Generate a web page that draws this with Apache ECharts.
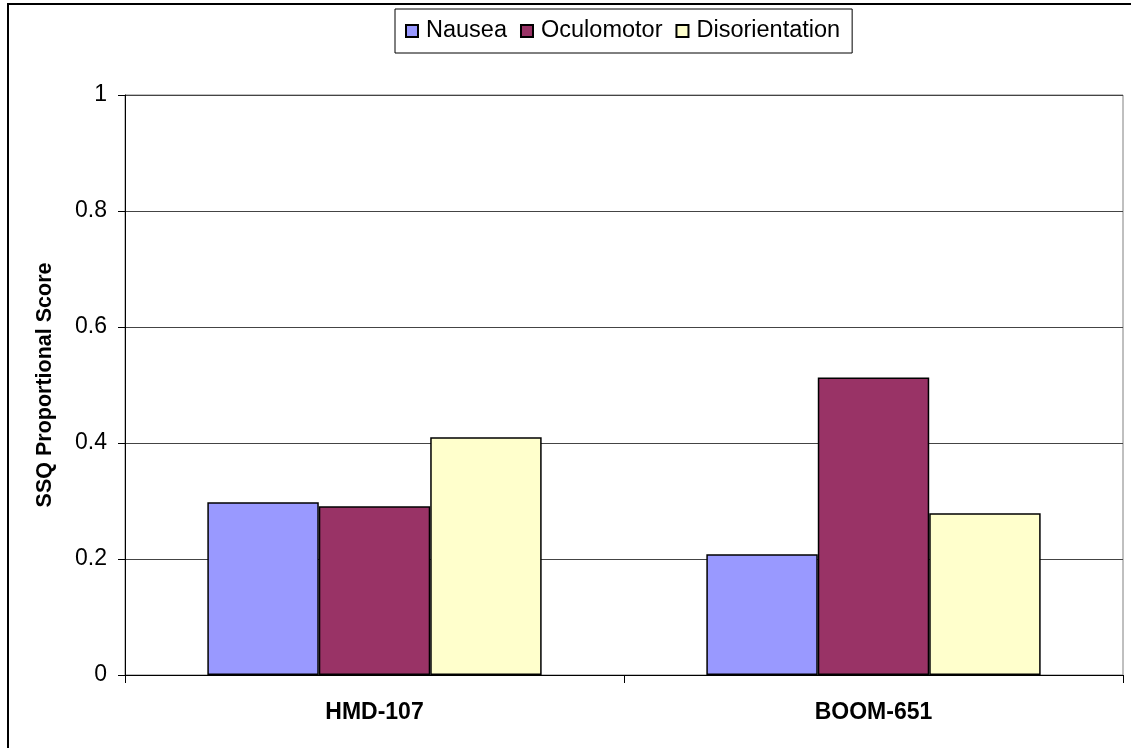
<!DOCTYPE html>
<html>
<head>
<meta charset="utf-8">
<script src="https://cdn.jsdelivr.net/npm/echarts@6/dist/echarts.min.js"></script>
<style>
  html, body { margin: 0; padding: 0; background: #fff; }
  #chart { width: 1131px; height: 748px; }
</style>
</head>
<body>
<div id="chart"></div>
<script>
// Simulator sickness questionnaire sub-scores per display type
const categories = ['HMD-107', 'BOOM-651'];
const seriesNames = ['Nausea', 'Oculomotor', 'Disorientation'];
const nausea = [0.298, 0.208];
const oculomotor = [0.291, 0.513];
const disorientation = [0.41, 0.279];
const yTickLabels = ['0', '0.2', '0.4', '0.6', '0.8', '1'];

const FONT = '"Liberation Sans", Arial, sans-serif';
const colors = ['#9999FF', '#993366', '#FFFFCC'];
const values = [nausea, oculomotor, disorientation];

const chart = echarts.init(document.getElementById('chart'), null, { renderer: 'canvas' });

chart.setOption({
  backgroundColor: '#ffffff',
  animation: false,
  textStyle: { fontFamily: FONT, color: '#000' },
  graphic: [{
    type: 'rect',
    shape: { x: 8, y: 4, width: 1300, height: 900 },
    style: { fill: 'none', stroke: '#000', lineWidth: 2 },
    silent: true,
    z: 0
  }],
  legend: {
    data: seriesNames,
    left: 395,
    top: 9,
    padding: [10, 12, 10, 10],
    itemGap: 13,
    itemWidth: 12,
    itemHeight: 12,
    icon: 'rect',
    borderColor: '#000',
    borderWidth: 1,
    backgroundColor: '#fff',
    textStyle: { fontFamily: FONT, fontSize: 23.5, color: '#000', padding: [0, 0, 0, 3] }
  },
  grid: {
    left: 125,
    right: 8,
    top: 95,
    bottom: 73,
    show: true,
    borderColor: '#808080',
    borderWidth: 1,
    backgroundColor: '#fff'
  },
  xAxis: {
    type: 'category',
    data: categories,
    boundaryGap: true,
    axisLine: { show: true, lineStyle: { color: '#000', width: 1 } },
    axisTick: { show: true, length: 8, lineStyle: { color: '#000' } },
    axisLabel: { fontFamily: FONT, fontSize: 23, fontWeight: 'bold', color: '#000', margin: 26 },
    splitLine: { show: false }
  },
  yAxis: {
    type: 'value',
    min: 0,
    max: 1,
    interval: 0.2,
    name: 'SSQ Proportional Score',
    nameLocation: 'middle',
    nameGap: 69,
    nameTextStyle: { fontFamily: FONT, fontSize: 21.5, fontWeight: 'bold', color: '#000' },
    axisLine: { show: true, lineStyle: { color: '#000', width: 1 } },
    axisTick: { show: true, length: 7, lineStyle: { color: '#000' } },
    axisLabel: {
      fontFamily: FONT, fontSize: 23, color: '#000', margin: 18,
      formatter: (v) => yTickLabels[Math.round(v / 0.2)]
    },
    splitLine: { show: true, lineStyle: { color: '#444', width: 1 } }
  },
  series: seriesNames.map((name, i) => ({
    name: name,
    type: 'bar',
    data: values[i],
    barGap: '0%',
    barCategoryGap: '33%',
    itemStyle: { color: colors[i], borderColor: '#000', borderWidth: 1.5 }
  }))
});
</script>
</body>
</html>
